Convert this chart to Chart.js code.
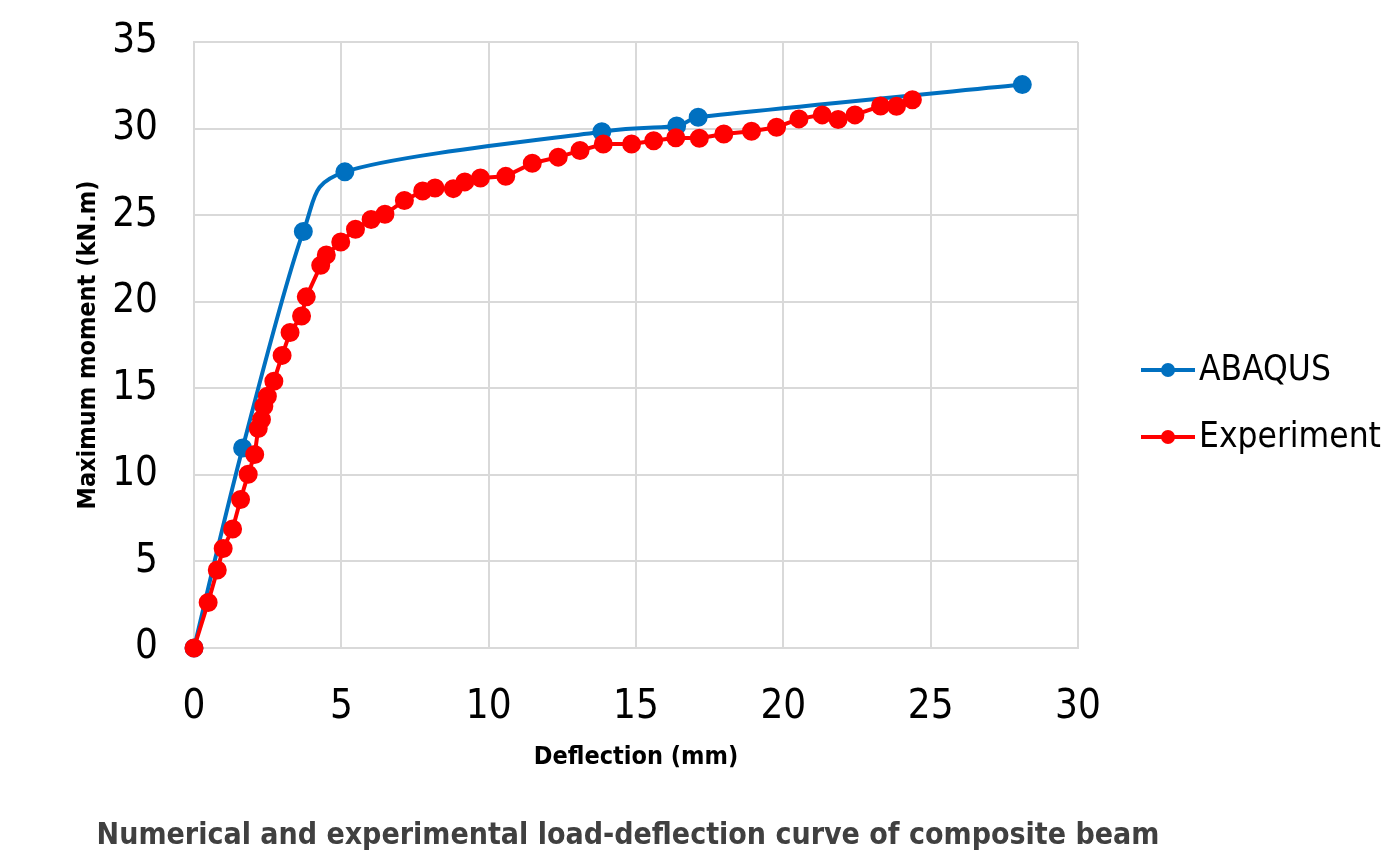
<!DOCTYPE html>
<html>
<head>
<meta charset="utf-8">
<script src="https://cdn.jsdelivr.net/npm/chart.js@4.4.1/dist/chart.umd.min.js"></script>
<style>
  html, body { margin: 0; padding: 0; background: #fff; }
  #wrap { width: 1393px; height: 862px; position: relative; }
</style>
</head>
<body>
<div id="wrap"><canvas id="myChart"></canvas></div>
<script>
const FONT = "'Liberation Sans Narrow', 'Arial Narrow', 'DejaVu Sans Condensed', sans-serif";

const xTicks = [0, 5, 10, 15, 20, 25, 30];
const yTicks = [0, 5, 10, 15, 20, 25, 30, 35];

const seriesNames = ["ABAQUS", "Experiment"];
const seriesColors = ["#0070C0", "#FF0000"];

// ABAQUS (numerical) curve
const abaqusX = [0, 1.65, 3.71, 5.12, 13.84, 16.38, 17.11, 28.11];
const abaqusY = [0, 11.55, 24.05, 27.5, 29.82, 30.15, 30.65, 32.54];

// experimental readings
const expX = [0, 0.48, 0.79, 0.99, 1.31, 1.58, 1.84, 2.06, 2.18, 2.29, 2.37, 2.49, 2.71, 2.99, 3.26,
  3.65, 3.81, 4.3, 4.49, 4.98, 5.48, 6.01, 6.48, 7.14, 7.76, 8.18, 8.8, 9.19, 9.72, 10.58,
  11.48, 12.36, 13.1, 13.89, 14.85, 15.6, 16.35, 17.15, 17.98, 18.92, 19.77, 20.53, 21.32,
  21.86, 22.43, 23.3, 23.84, 24.38];
const expY = [0, 2.63, 4.5, 5.75, 6.87, 8.58, 10.04, 11.18, 12.68, 13.2, 13.96, 14.54, 15.41, 16.9, 18.22,
  19.18, 20.28, 22.1, 22.7, 23.45, 24.19, 24.75, 25.05, 25.85, 26.39, 26.57, 26.53, 26.92, 27.15, 27.24,
  28.0, 28.35, 28.73, 29.11, 29.11, 29.3, 29.47, 29.44, 29.69, 29.85, 30.08, 30.56, 30.79,
  30.52, 30.79, 31.3, 31.29, 31.66];

const toPoints = (xs, ys) => xs.map((x, i) => ({ x: x, y: ys[i] }));

// Excel-style smoothed line: catmull-rom control points, clamped on short segments
const excelSmooth = {
  id: "excelSmooth",
  beforeDatasetDraw(chart, args) {
    if (args.index !== 0) return;
    const meta = args.meta;
    const pts = meta.data;
    const n = pts.length;
    for (let i = 0; i < n; i++) {
      const p = pts[i];
      const prev = pts[Math.max(i - 1, 0)];
      const next = pts[Math.min(i + 1, n - 1)];
      const tx = (next.x - prev.x) / 6;
      const ty = (next.y - prev.y) / 6;
      const tl = Math.hypot(tx, ty) || 1;
      const kin = Math.min(1, Math.hypot(p.x - prev.x, p.y - prev.y) / 2 / tl);
      const kout = Math.min(1, Math.hypot(next.x - p.x, next.y - p.y) / 2 / tl);
      p.cp1x = p.x - tx * kin;
      p.cp1y = p.y - ty * kin;
      p.cp2x = p.x + tx * kout;
      p.cp2y = p.y + ty * kout;
    }
    meta.dataset._pointsUpdated = true;
    meta.dataset._path = undefined;
  }
};

const extras = {
  id: "extras",
  afterDraw(chart) {
    const ctx = chart.ctx;
    ctx.save();
    // legend
    const items = [[370, 0], [437, 1]];
    items.forEach(([y, i]) => {
      ctx.strokeStyle = seriesColors[i];
      ctx.lineWidth = 4;
      ctx.beginPath();
      ctx.moveTo(1141, y);
      ctx.lineTo(1195, y);
      ctx.stroke();
      ctx.fillStyle = seriesColors[i];
      ctx.beginPath();
      ctx.arc(1168, y, 7, 0, Math.PI * 2);
      ctx.fill();
      ctx.fillStyle = "#000";
      ctx.font = "35px " + FONT;
      ctx.textAlign = "left";
      ctx.textBaseline = "middle";
      ctx.fillText(seriesNames[i], 1199, y + 1);
    });
    // caption
    ctx.fillStyle = "#404040";
    ctx.font = "bold 30px " + FONT;
    ctx.textAlign = "center";
    ctx.textBaseline = "middle";
    ctx.fillText("Numerical and experimental load-deflection curve of composite beam", 628, 836);
    ctx.restore();
  }
};

const ctx = document.getElementById("myChart").getContext("2d");

new Chart(ctx, {
  type: "scatter",
  data: {
    datasets: [
      {
        label: seriesNames[0],
        data: toPoints(abaqusX, abaqusY),
        showLine: true,
        borderColor: seriesColors[0],
        backgroundColor: seriesColors[0],
        borderWidth: 4,
        pointRadius: 7.5,
        pointHoverRadius: 7.5,
        tension: 0.4,
        clip: false,
        order: 1,
      },
      {
        label: seriesNames[1],
        data: toPoints(expX, expY),
        showLine: true,
        borderColor: seriesColors[1],
        backgroundColor: seriesColors[1],
        borderWidth: 4,
        pointRadius: 7.5,
        pointHoverRadius: 7.5,
        tension: 0,
        clip: false,
        order: 0,
      },
    ],
  },
  options: {
    responsive: true,
    maintainAspectRatio: false,
    animation: false,
    layout: { padding: { top: 42, right: 315, left: 0, bottom: 0 } },
    plugins: {
      legend: { display: false },
      tooltip: { enabled: false },
    },
    scales: {
      x: {
        type: "linear",
        min: 0,
        max: 30,
        afterFit: (s) => { s.height = 214; s.paddingLeft = 0; s.paddingRight = 0; },
        afterBuildTicks: (s) => { s.ticks = xTicks.map((v) => ({ value: v })); },
        grid: { color: "#d9d9d9", lineWidth: 2, drawTicks: false },
        border: { color: "#d9d9d9", width: 2 },
        ticks: { color: "#000", padding: 36, font: { family: FONT, size: 40 } },
        title: {
          display: true,
          text: "Deflection (mm)",
          color: "#000",
          padding: { top: 0, bottom: 90 },
          font: { family: FONT, size: 25, weight: "bold" },
        },
      },
      y: {
        min: 0,
        max: 35,
        afterFit: (s) => { s.width = 194; s.paddingTop = 0; s.paddingBottom = 0; },
        afterBuildTicks: (s) => { s.ticks = yTicks.map((v) => ({ value: v })); },
        grid: { color: "#d9d9d9", lineWidth: 2, drawTicks: false },
        border: { color: "#d9d9d9", width: 2 },
        ticks: { color: "#000", padding: 36, font: { family: FONT, size: 40 } },
        title: {
          display: true,
          text: "Maximum moment (kN.m)",
          color: "#000",
          padding: { top: 73, bottom: 0 },
          font: { family: FONT, size: 25, weight: "bold" },
        },
      },
    },
  },
  plugins: [excelSmooth, extras],
});
</script>
</body>
</html>
